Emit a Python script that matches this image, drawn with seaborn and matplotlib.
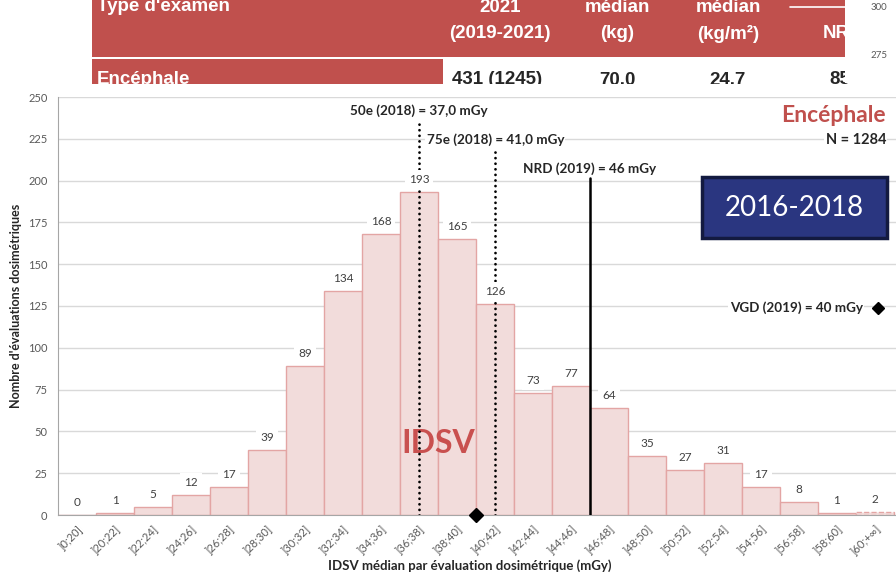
import matplotlib
matplotlib.use('Agg')
import numpy as np
import matplotlib.pyplot as plt
import seaborn as sns
from matplotlib.patches import Rectangle

# Données (Encéphale, 2016-2018)
categories = [']0;20]', ']20;22]', ']22;24]', ']24;26]', ']26;28]', ']28;30]',
              ']30;32]', ']32;34]', ']34;36]', ']36;38]', ']38;40]', ']40;42]',
              ']42;44]', ']44;46]', ']46;48]', ']48;50]', ']50;52]', ']52;54]',
              ']54;56]', ']56;58]', ']58;60]', ']60;+∞]']
counts = [0, 1, 5, 12, 17, 39, 89, 134, 168, 193, 165, 126,
          73, 77, 64, 35, 27, 31, 17, 8, 1, 2]
yticks = [0, 25, 50, 75, 100, 125, 150, 175, 200, 225, 250]

p50_2018 = 37.0
p75_2018 = 41.0
nrd_2019 = 46
vgd_2019 = 40

# morceau du tableau visible au-dessus
header_cols = ['2021', 'médian', 'médian']
header_sub = ['(2019-2021)', '(kg)', '(kg/m²)']
row_values = ['431 (1245)', '70,0', '24,7', '85']


def pos(mgy):
    # position sur l'axe des classes (classe ]20;22] centrée sur 1)
    return (mgy - 19) / 2


sns.set_theme(style='white')
plt.rcParams['font.family'] = ['Lato', 'DejaVu Sans']

fig = plt.figure(figsize=(8.96, 5.77), dpi=100)

# fond : fragment du tableau en haut
bg = fig.add_axes([0, 0, 1, 1])
bg.set_xlim(0, 896)
bg.set_ylim(577, 0)
bg.axis('off')
red = '#c0504d'
hfont = dict(fontsize=13.5, family=['Liberation Sans', 'DejaVu Sans'],
             fontweight='bold', zorder=3)
bg.add_patch(Rectangle((92, -5), 753, 62, fc=red, ec='none', zorder=1))
bg.add_patch(Rectangle((92, 59), 351, 30, fc=red, ec='none', zorder=1))
bg.plot([790, 845], [7, 7], color='white', lw=1.2, zorder=2)
bg.text(97, 11, "Type d'examen", color='white', ha='left', va='baseline', **hfont)
for x, t, s in zip([500, 617, 728], header_cols, header_sub):
    bg.text(x, 12, t, color='white', ha='center', va='baseline', **hfont)
    bg.text(x, 34, s, color='white', ha='center', va='center', **hfont)
bg.text(823, 34, 'NRD', color='white', ha='left', va='center', **hfont)
bg.text(97, 80, 'Encéphale', color='white', ha='left', va='center', **hfont)
for x, t in zip([497, 617, 728, 840], row_values):
    bg.text(x, 80, t, color='#262626', ha='center', va='center', **hfont)
bg.add_patch(Rectangle((845, -5), 60, 88, fc='white', ec='none', zorder=4))
bg.add_patch(Rectangle((-5, 83.5), 910, 500, fc='white', ec='none', zorder=4))
bg.text(879, 8, '300', color='#595959', fontsize=7, ha='center', va='center', zorder=5)
bg.text(879, 55, '275', color='#595959', fontsize=7, ha='center', va='center', zorder=5)

# graphique principal
ax = fig.add_axes([58 / 896, 1 - 515 / 577, 838 / 896, 418 / 577])
ax.set_facecolor('white')

sns.barplot(x=categories, y=counts, color='#f2dcdb', edgecolor='#e3a5a4',
            linewidth=1, width=1.0, saturation=1, ax=ax, zorder=1)
ax.patches[-1].set_linestyle('--')

for i, c in enumerate(counts):
    ax.annotate(str(c), (i, c), xytext=(0, 9), textcoords='offset points',
                ha='center', va='center', fontsize=8.5, color='#404040',
                bbox=dict(fc='white', ec='none', pad=3), zorder=5)

ax.set_xlim(-0.5, -0.5 + 838 / 38)
ax.set_ylim(0, 250)
ax.set_yticks(yticks)
ax.yaxis.grid(True, color='#d9d9d9', lw=1)
ax.set_axisbelow(True)

ax.set_xticks(range(len(categories)))
ax.set_xticklabels(categories, rotation=45, ha='right', rotation_mode='anchor',
                   fontsize=8, color='#595959')
ax.set_xticks(np.arange(-0.5, len(categories), 1), minor=True)
ax.tick_params(axis='x', which='major', length=0, pad=6)
ax.tick_params(axis='x', which='minor', length=4, color='#a6a6a6', width=0.8)
ax.tick_params(axis='y', length=4, color='#a6a6a6', width=0.8,
               labelsize=8, labelcolor='#595959')
for side in ['top', 'right']:
    ax.spines[side].set_visible(False)
for side in ['left', 'bottom']:
    ax.spines[side].set_color('#a6a6a6')
    ax.spines[side].set_linewidth(0.8)

ax.set_xlabel('IDSV médian par évaluation dosimétrique (mGy)', fontsize=9.5,
              fontweight='bold', color='#262626')
ax.xaxis.set_label_coords(0.4916, -0.105)
ax.set_ylabel("Nombre d'évaluations dosimétriques", fontsize=9,
              fontweight='bold', color='#262626')
ax.yaxis.set_label_coords(-0.043, 0.5)

# lignes de référence
dots = dict(color='black', lw=2, linestyle=(0, (0.01, 2)),
            dash_capstyle='round', zorder=3)
ax.plot([pos(p50_2018)] * 2, [0, 235], **dots)
ax.plot([pos(p75_2018)] * 2, [0, 219.5], **dots)
ax.plot([pos(nrd_2019)] * 2, [0, 201.5], color='black', lw=1.8, zorder=3)

lab = dict(fontsize=9.7, fontweight='bold', color='#262626', va='center')
ax.text(pos(p50_2018), 241.8, f'50e (2018) = {p50_2018:.1f} mGy'.replace('.', ','),
        ha='center', **lab)
ax.text(9.2, 224.3, f'75e (2018) = {p75_2018:.1f} mGy'.replace('.', ','),
        ha='left', bbox=dict(fc='white', ec='none', pad=1), zorder=5, **lab)
ax.text(pos(nrd_2019), 207, f'NRD (2019) = {nrd_2019} mGy', ha='center', **lab)
ax.text(20.68, 123.8, f'VGD (2019) = {vgd_2019} mGy', ha='right',
        bbox=dict(fc='white', ec='none', pad=1), zorder=5, **lab)
ax.plot(21.08, 123.8, marker='D', color='black', ms=6, zorder=6, clip_on=False)
ax.plot(pos(vgd_2019), 0, marker='D', color='black', ms=7, zorder=6, clip_on=False)

ax.text(21.29, 239.2, 'Encéphale', ha='right', va='center', fontsize=16.5,
        fontweight='bold', color=red)
ax.text(21.29, 224.3, 'N = 1284', ha='right', va='center', fontsize=10.5,
        fontweight='bold', color='#262626',
        bbox=dict(fc='white', ec='none', pad=1), zorder=5)

ax.add_patch(Rectangle((16.44, 165.5), 4.88, 36.8, fc='#2a3680', ec='#131a40',
                       lw=2.5, zorder=6))
ax.text(18.88, 183.9, '2016-2018', ha='center', va='center', fontsize=20,
        color='white', zorder=7)

ax.text(9.5, 42.5, 'IDSV', ha='center', va='center', fontsize=23,
        fontweight='bold', color='#c9504f', zorder=2)

fig.savefig('out.png', dpi=100)
